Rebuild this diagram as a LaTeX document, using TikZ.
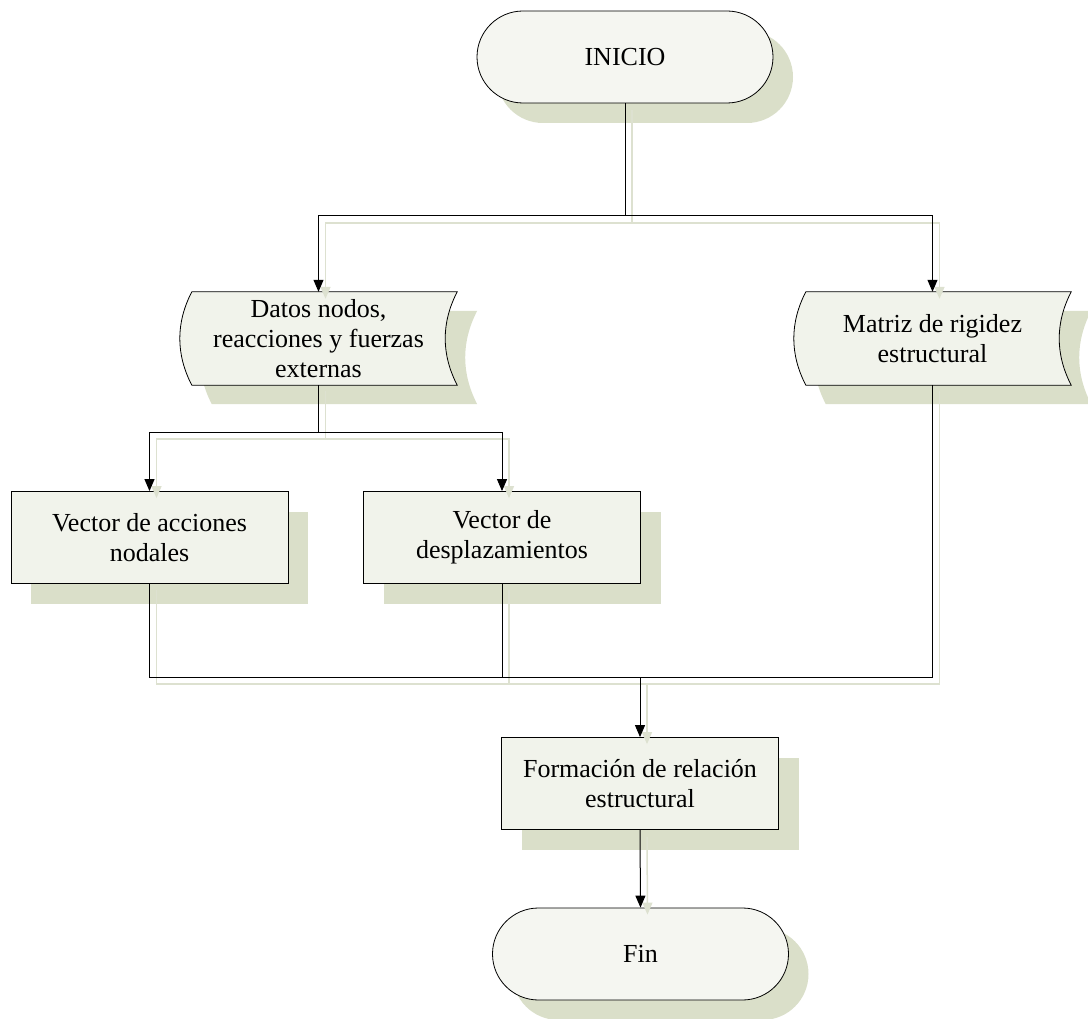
\documentclass[tikz,border=0pt]{standalone}
\usepackage{fontspec}
\setmainfont{Liberation Serif}
\usetikzlibrary{shapes.misc,shadows,arrows.meta,backgrounds}
\definecolor{nfill}{HTML}{F1F3EB}
\definecolor{tfill}{HTML}{F5F6F1}
\definecolor{shc}{HTML}{DADFC9}
\definecolor{shl}{HTML}{DDE1D0}
\newcommand\sdpath[2]{%
  \path[#1] ([xshift=12pt]#2.north west) -- (#2.north east)
    .. controls +(-16pt,-31pt) and +(-16pt,31pt) .. (#2.south east)
    -- ([xshift=12pt]#2.south west)
    .. controls +(-16pt,31pt) and +(-16pt,-31pt) .. ([xshift=12pt]#2.north west) -- cycle;}
\newcommand\allconnectors[2]{%
  \draw[#1] (inicio.south) -- (inicio.south |- h1);
  \draw[#2] (inicio.south |- h1) -| (datos.north);
  \draw[#2] (inicio.south |- h1) -| (matriz.north);
  \draw[#1] (datos.south) -- (datos.south |- h2);
  \draw[#2] (datos.south |- h2) -| (veca.north);
  \draw[#2] (datos.south |- h2) -| (vecd.north);
  \draw[#1] (veca.south) |- (form.north |- h3);
  \draw[#1] (vecd.south) |- (form.north |- h3);
  \draw[#1] (matriz.south) |- (form.north |- h3);
  \draw[#2] (form.north |- h3) -- (form.north);
  \draw[#2] (form.south) -- (fin.north);}
\begin{document}
\begin{tikzpicture}[x=1pt,y=-1pt,
  every node/.style={font=\fontsize{26}{30}\selectfont, align=center, inner sep=0pt},
  nshadow/.style={drop shadow={shadow xshift=20pt,shadow yshift=-20pt,fill=shc,opacity=1}},
  term/.style={rounded rectangle, draw, line width=0.8pt, fill=tfill, minimum width=296pt, minimum height=92pt, nshadow},
  proc/.style={rectangle, draw, line width=0.8pt, fill=nfill, minimum width=277pt, minimum height=92pt, nshadow},
  dnode/.style={rectangle, minimum width=277pt, minimum height=93pt},
  plainline/.style={line width=1pt, line cap=rect},
  conn/.style={line width=1pt, -{Triangle[width=10pt,length=12pt]}},
  shline/.style={draw=shl, line width=1.5pt, line cap=rect, transform canvas={shift={(7pt,-7pt)}}},
  shconn/.style={draw=shl, line width=1.5pt, transform canvas={shift={(7pt,-7pt)}}, -{Triangle[width=10pt,length=12pt]}}
]
\useasboundingbox (0,0) rectangle (1088,1019);
\coordinate (h1) at (0,216);
\coordinate (h2) at (0,432);
\coordinate (h3) at (0,677);

\node[term] (inicio) at (625,57) {INICIO};
\node[dnode] (datos) at (318.5,338.5) {Datos nodos,\\reacciones y fuerzas\\externas};
\node[dnode] (matriz) at (932.5,338.5) {Matriz de rigidez\\estructural};
\node[proc] (veca) at (149.5,537.5) {Vector de acciones\\nodales};
\node[proc] (vecd) at (502,537.5) {Vector de\\desplazamientos};
\node[proc] (form) at (640,783.5) {Formación de relación\\estructural};
\node[term] (fin) at (640.5,954) {Fin};

\begin{scope}[on background layer]
  \sdpath{fill=shc, transform canvas={shift={(20pt,-19pt)}}}{datos}
  \sdpath{fill=shc, transform canvas={shift={(20pt,-19pt)}}}{matriz}
  \sdpath{fill=nfill, draw, line width=0.8pt}{datos}
  \sdpath{fill=nfill, draw, line width=0.8pt}{matriz}
\end{scope}

\allconnectors{shline}{shconn}
\allconnectors{plainline}{conn}
\end{tikzpicture}
\end{document}
